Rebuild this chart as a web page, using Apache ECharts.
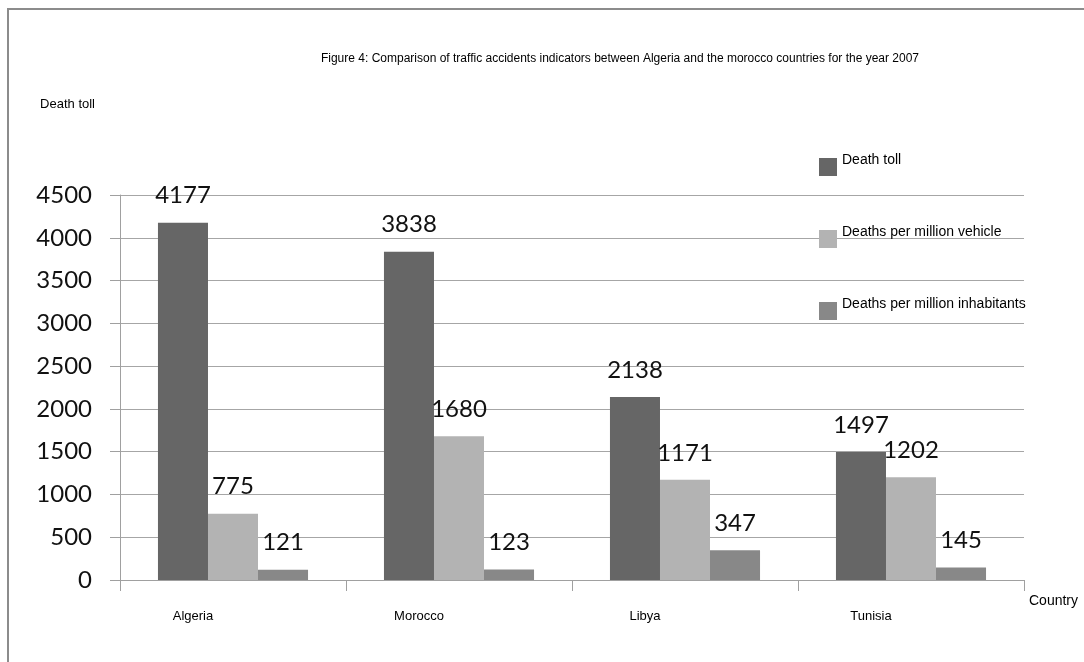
<!DOCTYPE html>
<html>
<head>
<meta charset="utf-8">
<script src="https://cdn.jsdelivr.net/npm/echarts@6/dist/echarts.min.js"></script>
<style>
  html, body { margin: 0; padding: 0; background: #fff; }
  #chart { width: 1084px; height: 662px; }
</style>
</head>
<body>
<div id="chart"></div>
<script>
// Traffic accident indicators, 2007
const countries = ['Algeria', 'Morocco', 'Libya', 'Tunisia'];
const deathToll = [4177, 3838, 2138, 1497];
const deathsPerMillionVehicle = [775, 1680, 1171, 1202];
const deathsPerMillionInhabitants = [121, 123, 347, 145];
const yTicks = { min: 0, max: 4500, interval: 500 };

const seriesNames = ['Death toll', 'Deaths per million vehicle', 'Deaths per million inhabitants'];
const seriesColors = ['#666666', '#b3b3b3', '#888888'];
const seriesValues = [deathToll, deathsPerMillionVehicle, deathsPerMillionInhabitants];

const chart = echarts.init(document.getElementById('chart'), null, { renderer: 'canvas' });

const smallFont = 'Liberation Sans, Arial, sans-serif';
const numFont = 'Lato, Open Sans, sans-serif';

chart.setOption({
  animation: false,
  backgroundColor: '#ffffff',
  title: {
    text: 'Figure 4: Comparison of traffic accidents indicators between Algeria and the morocco countries for the year 2007',
    left: 615,
    textAlign: 'center',
    top: 48,
    textStyle: { fontFamily: smallFont, fontSize: 12, fontWeight: 'normal', color: '#000' }
  },
  legend: {
    orient: 'vertical',
    left: 814,
    top: 148,
    itemWidth: 18,
    itemHeight: 18,
    itemGap: 44,
    icon: 'rect',
    // legend text sits a little above its swatch
    formatter: (name) => '{t|' + name + '}',
    textStyle: {
      fontFamily: smallFont, fontSize: 14, color: '#000',
      rich: { t: { fontFamily: smallFont, fontSize: 14, color: '#000', lineHeight: 14, padding: [0, 0, 14, 0] } }
    },
    data: seriesNames
  },
  grid: { left: 120, right: 60, top: 195, bottom: 82, containLabel: false },
  xAxis: {
    type: 'category',
    data: countries,
    name: 'Country',
    nameLocation: 'end',
    nameGap: 5,
    nameTextStyle: { fontFamily: smallFont, fontSize: 14, color: '#000', verticalAlign: 'top', padding: [14, 0, 0, 0] },
    axisLine: { lineStyle: { color: '#a0a0a0', width: 1 } },
    axisTick: { show: true, length: 11, lineStyle: { color: '#a0a0a0' } },
    axisLabel: {
      margin: 30,
      fontFamily: smallFont,
      fontSize: 13,
      color: '#000',
      padding: [0, 80, 0, 0]
    }
  },
  yAxis: {
    type: 'value',
    min: yTicks.min,
    max: yTicks.max,
    interval: yTicks.interval,
    name: 'Death toll',
    nameLocation: 'end',
    nameGap: 84,
    nameTextStyle: { fontFamily: smallFont, fontSize: 13, color: '#000', align: 'right', padding: [0, 25, 0, 0] },
    axisLine: { show: true, lineStyle: { color: '#a0a0a0' } },
    axisTick: { show: true, length: 10, lineStyle: { color: '#a0a0a0' } },
    axisLabel: {
      margin: 28,
      fontFamily: numFont,
      fontSize: 24,
      color: '#111',
      formatter: (v) => String(v)
    },
    splitLine: { show: true, lineStyle: { color: '#a6a6a6', width: 1 } }
  },
  series: seriesNames.map((name, i) => ({
    name: name,
    type: 'bar',
    data: seriesValues[i],
    barGap: '0%',
    barCategoryGap: '33.6%',
    itemStyle: { color: seriesColors[i] },
    label: {
      show: true,
      position: 'top',
      distance: 15,
      fontFamily: numFont,
      fontSize: 24,
      color: '#111'
    }
  })),
  graphic: [{
    type: 'rect',
    silent: true,
    z: -1,
    shape: { x: 8, y: 9, width: 2000, height: 2000 },
    style: { fill: 'none', stroke: '#8c8c8c', lineWidth: 2 }
  }]
});
</script>
</body>
</html>
